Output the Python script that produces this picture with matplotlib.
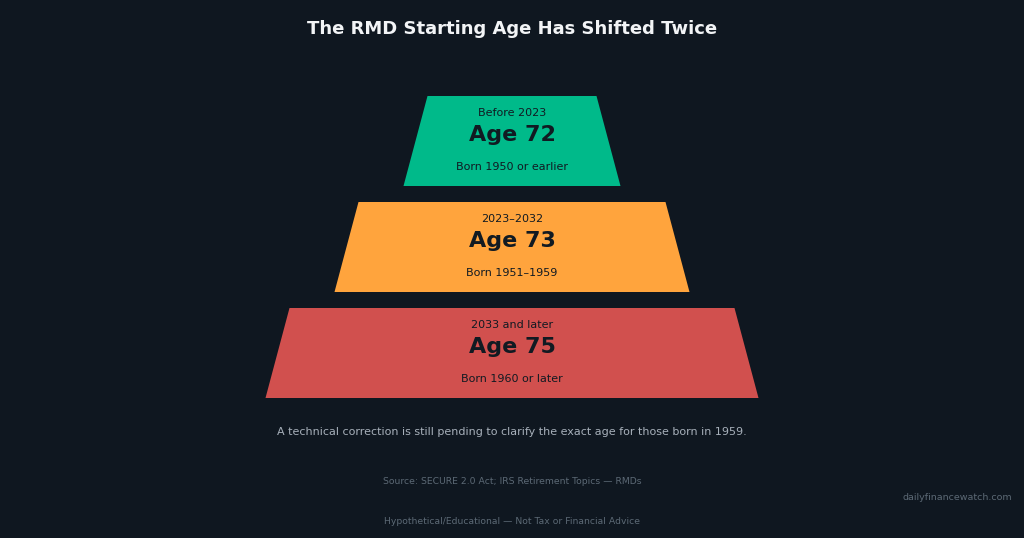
#rmd_pyramid.py
#stacked trapezoids showing the RMD starting age
import matplotlib.pyplot as plt
from matplotlib.patches import Polygon

periods = ["Before 2023", "2023\u20132032", "2033 and later"]
ages = ["Age 72", "Age 73", "Age 75"]
born = ["Born 1950 or earlier", "Born 1951\u20131959", "Born 1960 or later"]
colors = ["#00BA8A", "#FFA43D", "#D1504E"]

bg = "#0F1720"
ink = "#111A22"

fig = plt.figure(figsize=(10.24, 5.38), dpi=100, facecolor=bg)
ax = fig.add_axes([0, 0, 1, 1])
ax.set_facecolor(bg)
ax.set_xlim(0, 1024)
ax.set_ylim(538, 0)
ax.axis("off")

#layout in pixels
cx = 512
top0 = 96
h = 90
gap = 16
hw0 = 84.5
dhw = 69
slant = 24

for i in range(len(ages)):
    y0 = top0 + i * (h + gap)
    y1 = y0 + h
    hw = hw0 + dhw * i
    pts = [(cx - hw, y0), (cx + hw, y0), (cx + hw + slant, y1), (cx - hw - slant, y1)]
    ax.add_patch(Polygon(pts, closed=True, facecolor=colors[i], edgecolor="none"))
    ax.text(cx, y0 + 17, periods[i], ha="center", va="center", fontsize=8, color=ink)
    ax.text(cx, y0 + 39, ages[i], ha="center", va="center", fontsize=16,
            fontweight="bold", color=ink)
    ax.text(cx, y0 + 71, born[i], ha="center", va="center", fontsize=8, color=ink)

ax.text(512, 29, "The RMD Starting Age Has Shifted Twice", ha="center", va="center",
        fontsize=13, fontweight="bold", color="#F2F4F6")
ax.text(512, 432, "A technical correction is still pending to clarify the exact age for those born in 1959.",
        ha="center", va="center", fontsize=8, color="#A7B0BA")
ax.text(512, 482, "Source: SECURE 2.0 Act; IRS Retirement Topics \u2014 RMDs",
        ha="center", va="center", fontsize=6.7, color="#5C6975")
ax.text(512, 521, "Hypothetical/Educational \u2014 Not Tax or Financial Advice",
        ha="center", va="center", fontsize=6.7, color="#5C6975")
ax.text(1012, 497, "dailyfinancewatch.com", ha="right", va="center",
        fontsize=6.8, color="#5C6975")

fig.savefig("out.png", dpi=100, facecolor=bg)
